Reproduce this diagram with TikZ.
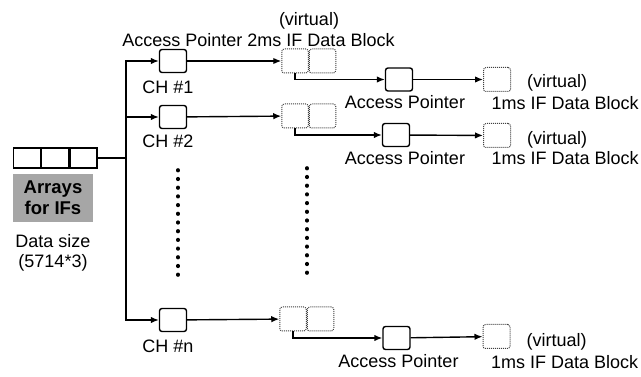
\documentclass[tikz,border=0pt]{standalone}
\usepackage{fontspec}
\setmainfont{Liberation Sans}
\usetikzlibrary{arrows.meta,positioning}

\begin{document}
\begin{tikzpicture}[
  x=1pt, y=-1pt,
  every node/.style={font=\fontsize{18}{20}\selectfont},
  cell/.style={draw, line width=1.2pt, minimum width=27pt, minimum height=20pt, inner sep=0pt},
  chbox/.style={draw, line width=1.4pt, rounded corners=2.5pt, minimum width=27pt,
    minimum height=23pt, inner sep=0pt},
  vbox/.style={draw=black!75, densely dotted, line width=1pt, rounded corners=2.5pt,
    minimum width=26.5pt, minimum height=24pt, inner sep=0pt},
  txt/.style={inner sep=0pt, align=center},
  arrow/.style={-{Latex[length=8pt,width=6.5pt]}, line width=1.4pt},
  wire/.style={line width=1.4pt},
  dotcol/.style={line width=3.6pt, line cap=round, dash pattern=on 0.6pt off 8.1pt}
]
\useasboundingbox (0,0) rectangle (641,377);

% input arrays
\node[cell] (arr1) at (27,158) {};
\node[cell, right=0pt of arr1] (arr2) {};
\node[cell, right=0pt of arr2] (arr3) {};
\node[txt, fill=black!35, minimum width=80pt, minimum height=48pt,
  font=\bfseries\fontsize{18.5}{21}\selectfont] (arrlabel) at (53,198) {Arrays\\for IFs};
\node[txt, below=12pt of arrlabel] (size) {Data size\\(5714*3)};
\coordinate (bus) at (126,158);

% header
\node[txt] (virt0) at (309,21) {(virtual)};
\node[txt] (head) at (258.5,40) {Access Pointer 2ms IF Data Block};

% channels
\node[chbox] (ch1) at (173,61) {};
\node[chbox] (ch2) at (173,117) {};
\node[chbox] (chn) at (173,320) {};
\node[txt, below=8pt of ch1, xshift=-5pt] (ch1lbl) {CH \#1};
\node[txt, below=6pt of ch2, xshift=-5pt] (ch2lbl) {CH \#2};
\node[txt, below=8pt of chn, xshift=-5pt] (chnlbl) {CH \#n};

% 2ms blocks (virtual)
\node[vbox] (d1a) at (295,61) {};
\node[vbox, right=0pt of d1a] (d1b) {};
\node[vbox] (d2a) at (295,116) {};
\node[vbox, right=0pt of d2a] (d2b) {};
\node[vbox] (dna) at (293,319) {};
\node[vbox, right=0pt of dna] (dnb) {};

% access pointers
\node[chbox] (ap1) at (399,79.5) {};
\node[chbox] (ap2) at (396,135) {};
\node[chbox] (apn) at (396.5,338) {};
\node[txt, below=4pt of ap1, xshift=6pt] (ap1lbl) {Access Pointer};
\node[txt, below=4pt of ap2, xshift=9pt] (ap2lbl) {Access Pointer};
\node[txt, below=4pt of apn, xshift=2pt] (apnlbl) {Access Pointer};

% 1ms blocks (virtual)
\node[vbox, minimum width=27pt] (v1) at (497,79.5) {};
\node[vbox, minimum width=27pt] (v2) at (497,135.5) {};
\node[vbox, minimum width=27pt] (vn) at (496.5,336.5) {};
\node[txt, anchor=west] (virt1) at ([xshift=16pt,yshift=-3.5pt]v1.east) {(virtual)};
\node[txt, anchor=west] (virt2) at ([xshift=16pt,yshift=-4pt]v2.east) {(virtual)};
\node[txt, anchor=west] (virtn) at ([xshift=16pt,yshift=-5pt]vn.east) {(virtual)};
\node[txt, below=5pt of virt1, xshift=8pt] (blk1) {1ms IF Data Block};
\node[txt, below=3pt of virt2, xshift=8pt] (blk2) {1ms IF Data Block};
\node[txt, below=5pt of virtn, xshift=8pt] (blkn) {1ms IF Data Block};

% connectors
\draw[wire] (arr3) -- (bus);
\draw[arrow] (bus) |- (ch1);
\draw[arrow] (bus |- ch2) -- (ch2);
\draw[arrow] (bus) |- (chn);
\draw[arrow] (ch1) -- (d1a);
\draw[arrow] (ch2) -- (d2a);
\draw[arrow] (chn) -- (dna);
\draw[arrow] (d1a.south) |- (ap1);
\draw[arrow] (d2a.south) |- (ap2);
\draw[arrow] (dna.south) |- (apn);
\draw[arrow] (ap1) -- (v1);
\draw[arrow] (ap2) -- (v2);
\draw[arrow] (apn) -- (vn);

% omitted channels
\draw[dotcol] (178,170) -- (178,275);
\draw[dotcol] (307,168) -- (307,273);
\end{tikzpicture}
\end{document}
